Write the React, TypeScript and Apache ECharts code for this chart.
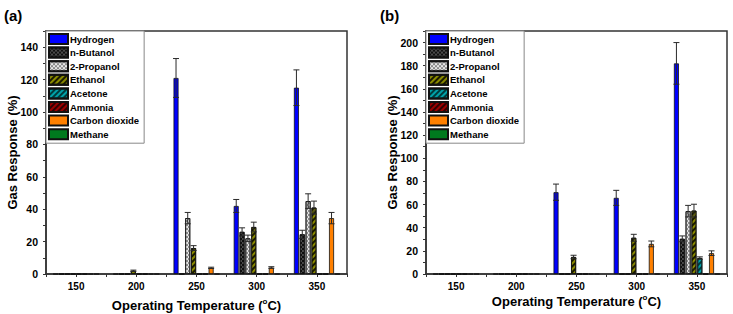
import React, { useEffect, useRef } from 'react';
import * as echarts from 'echarts';

// ---------- data ----------
const temps = [150, 200, 250, 300, 350];
const gasNames = ['Hydrogen', 'n-Butanol', '2-Propanol', 'Ethanol', 'Acetone', 'Ammonia', 'Carbon dioxide', 'Methane'];
const xTickLabels = [150, 200, 250, 300, 350];

// panel (a)
const aHydrogen = [0, 0, 121, 42, 115];
const aHydrogenErr = [0, 0, 12, 4, 11];
const aButanol = [0, 0, 0, 26, 24.5];
const aButanolErr = [0, 0, 0, 2.5, 2.5];
const aPropanol = [0, 0, 34.5, 22, 45];
const aPropanolErr = [0, 0, 3.5, 2, 4.5];
const aEthanol = [0, 2, 16, 29, 41];
const aEthanolErr = [0, 0.4, 1.5, 3, 4];
const aAcetone = [0, 0, 0, 0, 0];
const aAcetoneErr = [0, 0, 0, 0, 0];
const aAmmonia = [0, 0, 0, 0, 0];
const aAmmoniaErr = [0, 0, 0, 0, 0];
const aCO2 = [0, 0, 3.8, 4, 34.5];
const aCO2Err = [0, 0, 0.4, 0.5, 3.5];
const aMethane = [0, 0, 0, 0, 0];
const aMethaneErr = [0, 0, 0, 0, 0];

// panel (b)
const bHydrogen = [0, 0, 70.7, 65.8, 182];
const bHydrogenErr = [0, 0, 7, 6.5, 18];
const bButanol = [0, 0, 0, 0, 30.4];
const bButanolErr = [0, 0, 0, 0, 2.5];
const bPropanol = [0, 0, 0, 0, 54.3];
const bPropanolErr = [0, 0, 0, 0, 5];
const bEthanol = [0, 0, 14.7, 31.3, 54.8];
const bEthanolErr = [0, 0, 1.5, 3, 5.5];
const bAcetone = [0, 0, 0, 0, 13.8];
const bAcetoneErr = [0, 0, 0, 0, 1];
const bAmmonia = [0, 0, 0, 0, 0];
const bAmmoniaErr = [0, 0, 0, 0, 0];
const bCO2 = [0, 0, 0, 26, 18];
const bCO2Err = [0, 0, 0, 2.5, 2];
const bMethane = [0, 0, 0, 0, 0];
const bMethaneErr = [0, 0, 0, 0, 0];

const panelAValues = [aHydrogen, aButanol, aPropanol, aEthanol, aAcetone, aAmmonia, aCO2, aMethane];
const panelAErrors = [aHydrogenErr, aButanolErr, aPropanolErr, aEthanolErr, aAcetoneErr, aAmmoniaErr, aCO2Err, aMethaneErr];
const panelBValues = [bHydrogen, bButanol, bPropanol, bEthanol, bAcetone, bAmmonia, bCO2, bMethane];
const panelBErrors = [bHydrogenErr, bButanolErr, bPropanolErr, bEthanolErr, bAcetoneErr, bAmmoniaErr, bCO2Err, bMethaneErr];

// ---------- styles ----------
const FONT = 'Arial, "Liberation Sans", sans-serif';
const BAR_W = 5;
const BAR_GAP = 0.17;
const SLOT = BAR_W * (1 + BAR_GAP);

const checker = (color: string) => ({
  symbol: 'rect',
  symbolSize: 1,
  dashArrayX: [[1.5, 1.5], [0, 1.5, 1.5, 0]],
  dashArrayY: [1.5, 0],
  color,
});
const hatch = (color: string) => ({
  symbol: 'rect',
  symbolSize: 1,
  dashArrayX: [1, 0],
  dashArrayY: [1.2, 2],
  rotation: -Math.PI / 4,
  color,
});

const gasStyles: any[] = [
  { color: '#0000ff' },
  { color: '#4a4a4a', decal: checker('#101010') },
  { color: '#e6e6e6', decal: checker('#8a8a8a') },
  { color: '#8a8a00', decal: hatch('#1a1a00') },
  { color: '#00a0a8', decal: hatch('#003a3c') },
  { color: '#9a0000', decal: hatch('#300000') },
  { color: '#ff8000' },
  { color: '#007a1e' },
];

function buildPanel(idx: number, values: number[][], errors: number[][]) {
  const series: any[] = [];
  values.forEach((vals, k) => {
    series.push({
      type: 'bar',
      name: gasNames[k],
      xAxisIndex: idx,
      yAxisIndex: idx,
      barWidth: BAR_W,
      barGap: `${BAR_GAP * 100}%`,
      data: temps.map((t, i) => [t, vals[i]]),
      itemStyle: {
        color: gasStyles[k].color,
        decal: gasStyles[k].decal,
        borderColor: '#111',
        borderWidth: 0.8,
      },
      z: 2,
    });
  });
  const errData: number[][] = [];
  values.forEach((vals, k) => {
    temps.forEach((t, i) => {
      if (errors[k][i] > 0) errData.push([t, vals[i], errors[k][i], k]);
    });
  });
  series.push({
    type: 'custom',
    xAxisIndex: idx,
    yAxisIndex: idx,
    z: 5,
    silent: true,
    data: errData,
    renderItem: (params: any, api: any) => {
      const x = api.value(0);
      const y = api.value(1);
      const e = api.value(2);
      const k = api.value(3);
      const top = api.coord([x, y + e]);
      const bot = api.coord([x, y - e]);
      const cx = top[0] + (k - 3.5) * SLOT;
      const st = { stroke: '#2a2a2a', lineWidth: 1 };
      const cap = 3;
      return {
        type: 'group',
        children: [
          { type: 'line', shape: { x1: cx, y1: top[1], x2: cx, y2: bot[1] }, style: st },
          { type: 'line', shape: { x1: cx - cap, y1: top[1], x2: cx + cap, y2: top[1] }, style: st },
          { type: 'line', shape: { x1: cx - cap, y1: bot[1], x2: cx + cap, y2: bot[1] }, style: st },
        ],
      };
    },
  });
  return series;
}

function xAxis(idx: number, nameGap: number) {
  return {
    type: 'value',
    gridIndex: idx,
    min: 125,
    max: 375,
    interval: 25,
    name: 'Operating Temperature ({sup|o}C)',
    nameLocation: 'middle',
    nameGap,
    nameMoveOverlap: false,
    nameTextStyle: {
      fontFamily: FONT,
      fontWeight: 'bold',
      fontSize: 13,
      color: '#000',
      rich: { sup: { fontFamily: FONT, fontWeight: 'bold', fontSize: 8, color: '#000', padding: [0, 0, 8, 0] } },
    },
    axisLine: { show: true, onZero: false, lineStyle: { color: '#333', width: 1.5 } },
    axisTick: { show: true, inside: false, length: 3, lineStyle: { color: '#333', width: 1 } },
    axisLabel: {
      margin: 7,
      fontFamily: FONT,
      fontWeight: 'bold',
      fontSize: 10,
      color: '#000',
      showMinLabel: true,
      showMaxLabel: true,
      formatter: (v: number) => (xTickLabels.indexOf(v) >= 0 ? String(v) : ''),
    },
    splitLine: { show: false },
  };
}

function yAxis(idx: number, max: number) {
  return {
    type: 'value',
    gridIndex: idx,
    min: 0,
    max,
    interval: 10,
    name: 'Gas Response (%)',
    nameLocation: 'middle',
    nameGap: 27,
    nameMoveOverlap: false,
    nameTextStyle: { fontFamily: FONT, fontWeight: 'bold', fontSize: 13, color: '#000' },
    axisLine: { show: true, lineStyle: { color: '#333', width: 1.5 } },
    axisTick: { show: true, inside: false, length: 3, lineStyle: { color: '#333', width: 1 } },
    axisLabel: {
      margin: 8,
      fontFamily: FONT,
      fontWeight: 'bold',
      fontSize: 10.5,
      color: '#000',
      formatter: (v: number) => (v % 20 === 0 ? String(v) : ''),
    },
    splitLine: { show: false },
  };
}

function legend(left: number) {
  return {
    left,
    top: 31,
    orient: 'vertical',
    data: gasNames,
    icon: 'rect',
    itemWidth: 19,
    itemHeight: 10,
    itemGap: 1.6,
    padding: [2, 5, 3, 2],
    backgroundColor: '#fff',
    borderColor: '#888',
    borderWidth: 1,
    borderRadius: 0,
    selectedMode: false,
    textStyle: { fontFamily: FONT, fontWeight: 'bold', fontSize: 9.5, color: '#000', padding: [0, 0, 0, -3] },
  };
}

const gridBase = {
  top: 31,
  width: 301,
  height: 243,
  show: true,
  borderColor: '#333',
  borderWidth: 1.5,
  backgroundColor: 'transparent',
  containLabel: false,
  outerBoundsMode: 'none',
};

export default function App() {
  const ref = useRef<HTMLDivElement>(null);
  useEffect(() => {
    if (!ref.current) return;
    const chart = echarts.init(ref.current, null, { renderer: 'svg' });
    chart.setOption({
      animation: false,
      backgroundColor: '#fff',
      aria: { enabled: false },
      grid: [
        { ...gridBase, left: 46 },
        { ...gridBase, left: 426 },
      ],
      xAxis: [xAxis(0, 23), xAxis(1, 19)],
      yAxis: [yAxis(0, 150), yAxis(1, 210)],
      legend: [legend(46), legend(426)],
      graphic: [
        { type: 'text', left: 4, top: 8, style: { text: '(a)', font: `bold 15px ${FONT}`, fill: '#000' } },
        { type: 'text', left: 380, top: 8, style: { text: '(b)', font: `bold 15px ${FONT}`, fill: '#000' } },
      ],
      series: [...buildPanel(0, panelAValues, panelAErrors), ...buildPanel(1, panelBValues, panelBErrors)],
    });
    return () => chart.dispose();
  }, []);
  return <div ref={ref} style={{ position: 'fixed', left: 0, top: 0, width: 733, height: 314 }} />;
}
